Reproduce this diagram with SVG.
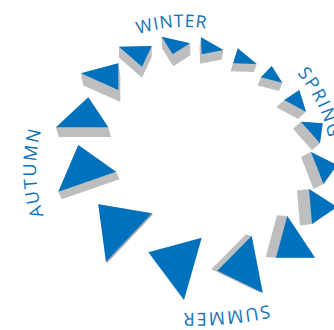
<svg xmlns="http://www.w3.org/2000/svg" xmlns:xlink="http://www.w3.org/1999/xlink" width="334" height="330" viewBox="0 0 334 330">
<style>
.b{fill:#0071BC}
.g{fill:#BDBEC0}
.lbl{font-family:"Open Sans","Liberation Sans",sans-serif;font-size:17.5px;letter-spacing:0.8px;fill:#0F72BA}
.wide{font-size:18px;letter-spacing:1.8px}
</style>
<defs>
<path id="ring" d="M184,311 A142,142 0 1,1 184,27 A142,142 0 1,1 184,311"/>
<path id="ring2" d="M184,317 A148,148 0 1,1 184,21 A148,148 0 1,1 184,317"/>
<path id="bottom" d="M300,296.9 A384,384 0 0,1 100,302.3"/>
</defs>
<rect width="334" height="330" fill="#fff"/>
<g id="t01"><polygon class="g" points="119,46.7 151.7,46 151.7,57 142,77.7 119,57.7"/><polygon class="b" points="119,46.7 151.7,46 142,66.7"/></g>
<g id="t02"><polygon class="g" points="190,43.3 161.7,36.7 162.2,48.7 173.2,66.3 190.5,55.3"/><polygon class="b" points="161.7,36.7 190,43.3 172.7,54.3"/></g>
<g id="t03"><polygon class="g" points="223.3,50 201,37.3 199.5,46.8 200.2,63.8 221.8,59.5"/><polygon class="b" points="201,37.3 223.3,50 201.7,54.3"/></g>
<g id="t04"><polygon class="g" points="256.7,64 237.7,48.3 235,56.3 230.6,71.3 254,72"/><polygon class="b" points="237.7,48.3 256.7,64 233.3,63.3"/></g>
<g id="t05"><polygon class="g" points="282.3,82.7 271.7,66 261,77.3 257.7,85.6 279,91"/><polygon class="b" points="271.7,66 282.3,82.7 261,77.3"/></g>
<g id="t06"><polygon class="g" points="306,111.7 299.3,90 284.3,100 276.3,107.3 298,119"/><polygon class="b" points="299.3,90 306,111.7 284.3,100"/></g>
<g id="t07"><polygon class="g" points="320,143.3 322.7,123.3 301,121.7 293,128.7 312,150.3"/><polygon class="b" points="301,121.7 322.7,123.3 320,143.3"/></g>
<g id="t08"><polygon class="g" points="323.5,184 337,165 311,152 301,157 313.5,189"/><polygon class="b" points="311,152 337,165 323.5,184"/></g>
<g id="t09"><polygon class="g" points="312,224 337,207 309,189 297,190.5 300,225.5"/><polygon class="b" points="309,189 337,207 312,224"/></g>
<g id="t10"><polygon class="g" points="276,257.7 315,257.7 287.3,216 277,215.3 265.7,257"/><polygon class="b" points="287.3,216 315,257.7 276,257.7"/></g>
<g id="t11"><polygon class="g" points="262.7,292.7 251.7,236 245.7,234.5 211.3,269.2 256.7,291.2"/><polygon class="b" points="251.7,236 262.7,292.7 217.3,270.7"/></g>
<g id="t12"><polygon class="b" points="148.3,252.3 201.7,237.7 184,300"/></g>
<g id="t13"><polygon fill="#A9AAAC" points="151.7,213.3 98.3,204.3 106,261.7 107.2,262.9 152.9,214.5"/><polygon class="b" points="98.3,204.3 151.7,213.3 106,261.7"/></g>
<g id="t14"><polygon class="g" points="116,171.7 78.3,145 58.3,191.7 61.8,199.2 119.5,179.2"/><polygon class="b" points="78.3,145 116,171.7 58.3,191.7"/></g>
<g id="t15"><polygon class="g" points="108.3,127.3 88.3,97.3 56,127.3 58.7,137 111,137"/><polygon class="b" points="88.3,97.3 108.3,127.3 56,127.3"/></g>
<g id="t16"><polygon class="g" points="118.3,63.3 81,73.3 83,85.3 120.3,102 120.3,75.3"/><polygon class="b" points="81,73.3 118.3,63.3 118.3,90"/></g>
<g id="labels">
<text class="lbl wide"><textPath xlink:href="#ring2" startOffset="229" text-anchor="middle">AUTUMN</textPath></text>
<text class="lbl"><textPath xlink:href="#ring" startOffset="434" text-anchor="middle">WINTER</textPath></text>
<text class="lbl wide"><textPath xlink:href="#ring2" startOffset="593">SPRING</textPath></text>
<text class="lbl wide"><textPath xlink:href="#bottom" startOffset="76" text-anchor="middle">SUMMER</textPath></text>
</g>
</svg>
